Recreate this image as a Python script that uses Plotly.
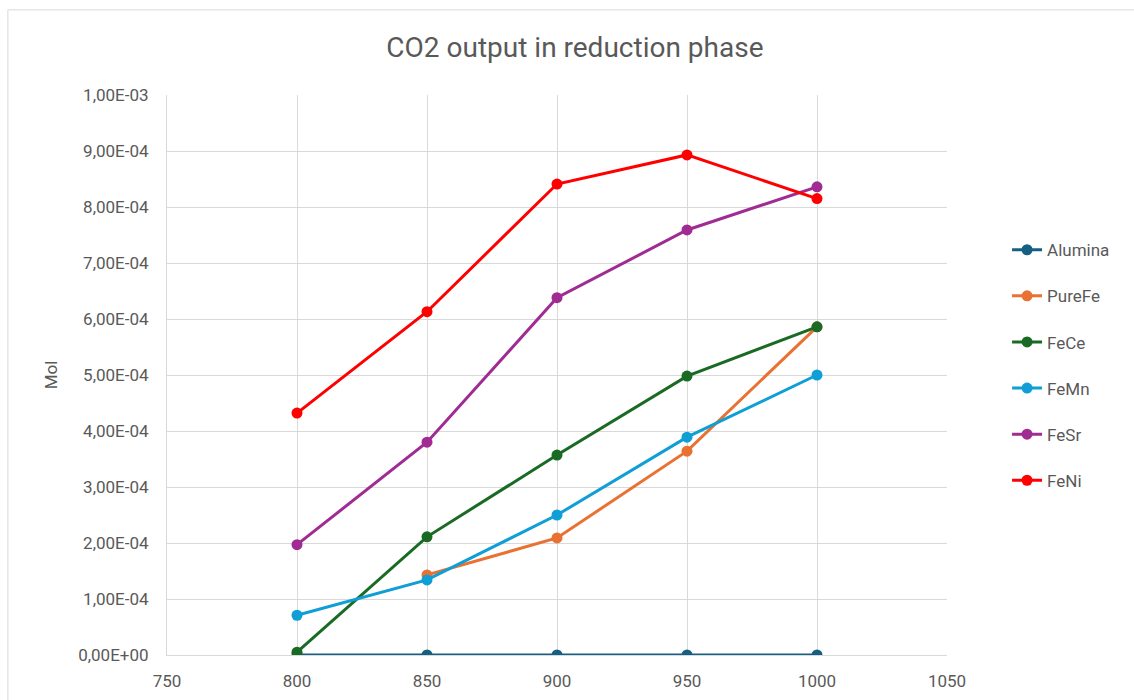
import plotly.graph_objects as go

temps = [800, 850, 900, 950, 1000]
alumina = [0, 0, 0, 0, 0]
purefe_t = [850, 900, 950, 1000]
purefe = [1.43e-4, 2.09e-4, 3.64e-4, 5.86e-4]
fece = [5e-6, 2.11e-4, 3.57e-4, 4.98e-4, 5.86e-4]
femn = [7.1e-5, 1.34e-4, 2.50e-4, 3.89e-4, 5.00e-4]
fesr = [1.97e-4, 3.80e-4, 6.38e-4, 7.59e-4, 8.36e-4]
feni = [4.32e-4, 6.13e-4, 8.41e-4, 8.93e-4, 8.15e-4]

ytick_vals = [i * 1e-4 for i in range(11)]
ytick_text = ["0,00E+00", "1,00E-04", "2,00E-04", "3,00E-04", "4,00E-04", "5,00E-04",
              "6,00E-04", "7,00E-04", "8,00E-04", "9,00E-04", "1,00E-03"]
xtick_vals = [750, 800, 850, 900, 950, 1000, 1050]

series = [
    ("Alumina", temps, alumina, "#156082"),
    ("PureFe", purefe_t, purefe, "#E97132"),
    ("FeCe", temps, fece, "#196B24"),
    ("FeMn", temps, femn, "#0F9ED5"),
    ("FeSr", temps, fesr, "#A02B93"),
    ("FeNi", temps, feni, "#FF0000"),
]

fig = go.Figure()
for name, xs, ys, c in series:
    fig.add_trace(go.Scatter(x=xs, y=ys, name=name, mode="lines+markers",
                             legendgroup=name,
                             line=dict(color=c, width=3),
                             marker=dict(color=c, size=11)))

fig.update_layout(
    width=1134, height=700,
    paper_bgcolor="white", plot_bgcolor="white",
    margin=dict(l=167, r=187, t=95, b=45),
    font=dict(family="Roboto, Liberation Sans, sans-serif", color="#595959", size=17),
    title=dict(text="CO2 output in reduction phase", x=0.507, xanchor="center",
               y=0.933, yanchor="middle",
               font=dict(size=28, color="#595959", family="Roboto, sans-serif")),
    legend=dict(x=1.077, y=0.755, xanchor="left", yanchor="top", tracegroupgap=21,
                font=dict(size=17, color="#595959"), bgcolor="rgba(0,0,0,0)"),
    showlegend=True,
    shapes=[dict(type="rect", xref="paper", yref="paper", x0=-0.204, x1=1.3, y0=-0.2, y1=1.152,
                 line=dict(color="#D9D9D9", width=1), fillcolor="rgba(0,0,0,0)", layer="below")],
)
fig.update_xaxes(range=[750, 1050], tickvals=xtick_vals, showgrid=True, gridcolor="#D9D9D9",
                 gridwidth=1, zeroline=False, showline=True, linecolor="#D9D9D9",
                 automargin=False,
                 ticks="", ticklabelstandoff=11, tickfont=dict(size=17, color="#595959"))
fig.update_yaxes(range=[0, 1e-3], tickvals=ytick_vals, ticktext=ytick_text, showgrid=True,
                 gridcolor="#D9D9D9", gridwidth=1, zeroline=False, showline=True,
                 linecolor="#D9D9D9", ticks="", ticklabelstandoff=14,
                 tickfont=dict(size=17, color="#595959"),
                 title=dict(text="Mol", font=dict(size=17, color="#595959"), standoff=16))

fig.write_html("out.html")
